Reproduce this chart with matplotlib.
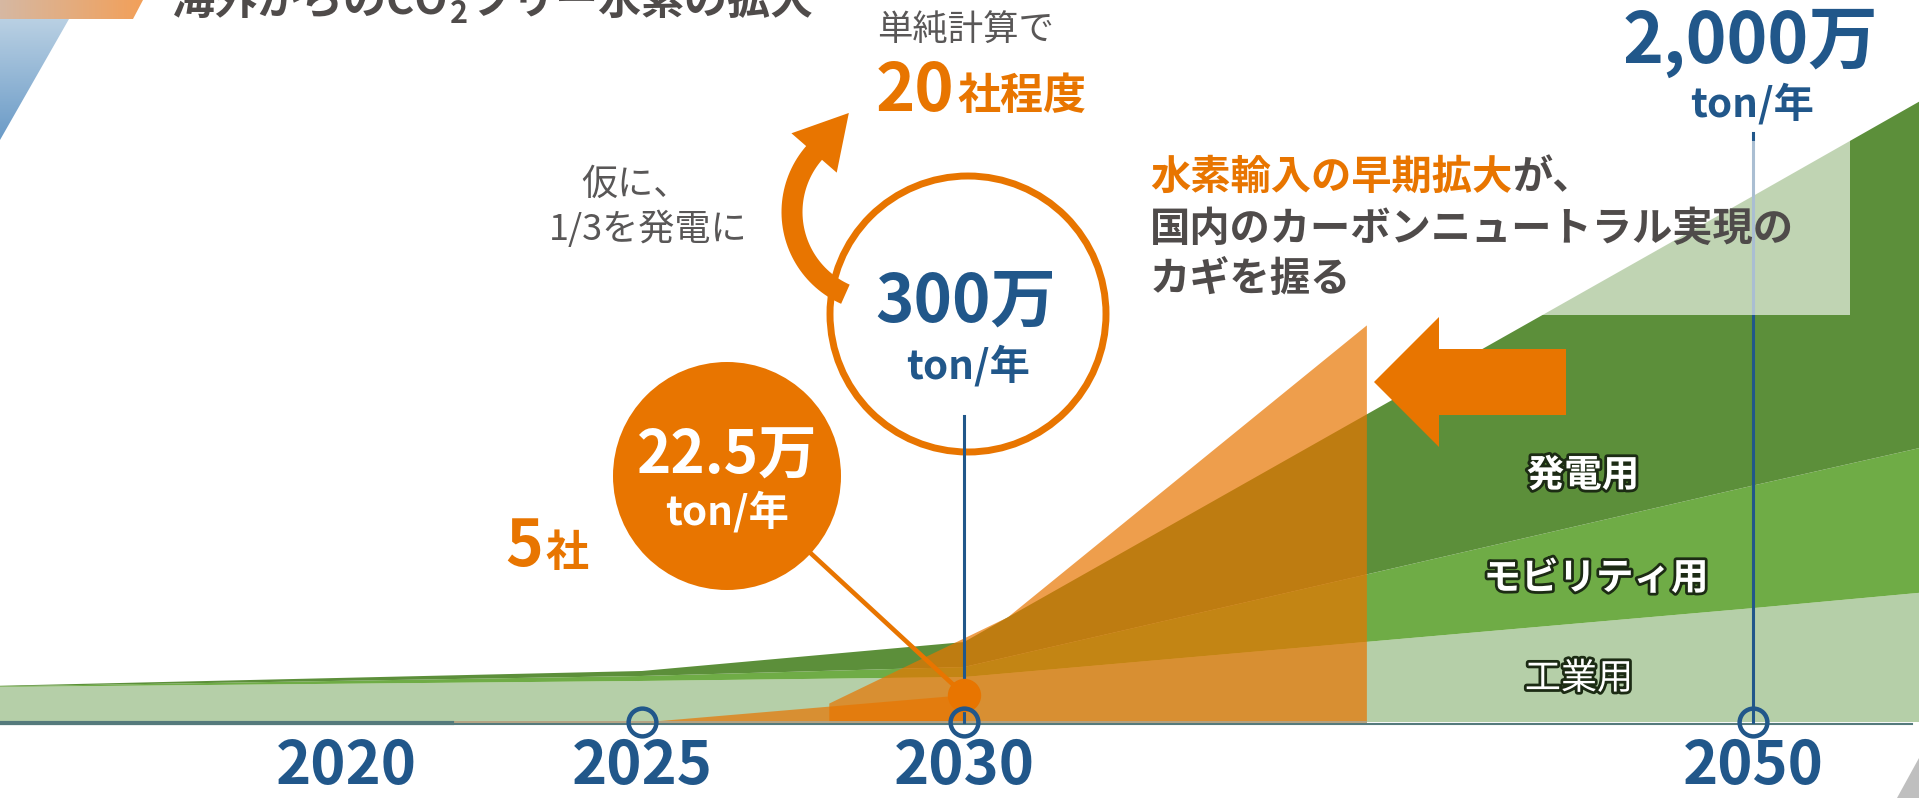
import numpy as np
import matplotlib
matplotlib.use("Agg")
import matplotlib.pyplot as plt
from matplotlib import patheffects
from matplotlib.patches import Circle, Polygon, Rectangle
from matplotlib.transforms import Affine2D, blended_transform_factory

plt.rcParams['font.family'] = ['Noto Sans CJK JP', 'DejaVu Sans']

# domestic hydrogen demand, stacked (万ton/年)
years = [2014, 2025, 2030, 2050, 2055]
industry = [133, 156, 171, 433, 502]
mobility = [2, 19, 38, 466, 566]
power = [2, 19, 95, 1101, 1358]
layer_labels = ['工業用', 'モビリティ用', '発電用']

# imported CO2-free hydrogen (schematic areas)
import_years = [2027.9, 2031.1, 2040.2]
import_values = [72, 400, 1510]
early_years = [2025, 2030]
early_values = [0, 104]

tick_years = [2020, 2025, 2030, 2050]
marker_years = [2025, 2030, 2050]

# colours
NAVY = '#21578A'
ORANGE = '#E87500'
DARK = '#4F4B4A'
GREY = '#595757'
GREENS = ['#B5CFA8', '#6FAC46', '#5C8F3A']

W, H = 1919, 798
BASE = 722      # pixel row of the zero line
PPU = 0.263     # pixels per 万ton

# time axis is not linear: years -> pixel columns
YEAR_ANCHOR = [2010, 2020, 2025, 2030, 2050, 2060]
PX_ANCHOR = [-246, 346, 642, 964, 1753, 2147.5]


def fwd(x):
    return np.interp(x, YEAR_ANCHOR, PX_ANCHOR)


def inv(p):
    return np.interp(p, PX_ANCHOR, YEAR_ANCHOR)


fig = plt.figure(figsize=(W / 100, H / 100), dpi=100)
ax = fig.add_axes([0, 0, 1, 1])
ax.set_xscale('function', functions=(fwd, inv))
ax.axis('off')

# pixel coordinates measured from top-left
PX = Affine2D().scale(1 / 100, -1 / 100).translate(0, H / 100) + fig.dpi_scale_trans
yr_px = blended_transform_factory(ax.transData, PX)

# green stack
ax.stackplot(years, industry, mobility, power, colors=GREENS, lw=0, zorder=1)

# orange import areas
ax.fill_between(import_years, 0, import_values, color=ORANGE, alpha=0.7, lw=0, zorder=2)
ax.fill_between(early_years, 0, early_values, color=ORANGE, alpha=0.7, lw=0, zorder=2)

# baseline
ax.plot([0, 1912], [724, 724], transform=PX, color='#557A7C', lw=1.5, zorder=3)
ax.plot([452, 1366], [722, 722], transform=PX, color='#B3A283', lw=1.4, zorder=3)
ax.plot([0, 452], [723, 723], transform=PX, color='#557A7C', lw=3, zorder=3)

# vertical guide lines
ax.plot([2050, 2050], [BASE, 133], transform=yr_px, color=NAVY, lw=2.2, zorder=3)
ax.plot([2030, 2030], [BASE, 416], transform=yr_px, color=NAVY, lw=2.2, zorder=9)

# layer labels
glow = [patheffects.withStroke(linewidth=4, foreground='#1C2B14')]
ax.text(1579, 679, layer_labels[0], transform=PX, ha='center', va='center',
        color='white', fontsize=26, path_effects=glow, zorder=6)
ax.text(1596, 578, layer_labels[1], transform=PX, ha='center', va='center',
        color='white', fontsize=27, fontweight='bold', path_effects=glow, zorder=6)
ax.text(1583, 475, layer_labels[2], transform=PX, ha='center', va='center',
        color='white', fontsize=27, fontweight='bold', path_effects=glow, zorder=6)

# big arrow pointing left
arrow_pts = [(1374, 382), (1439, 317), (1439, 349), (1566, 349),
             (1566, 415), (1439, 415), (1439, 447)]
ax.add_patch(Polygon(arrow_pts, closed=True, transform=PX, fc=ORANGE, ec='none', zorder=4))

# message box
ax.add_patch(Rectangle((1132, 141), 718, 174, transform=PX, fc='white',
                       alpha=0.62, ec='none', zorder=5))
t1 = ax.text(1150, 189, '水素輸入の早期拡大', transform=PX, ha='left', va='baseline',
             fontsize=29, fontweight='bold', color=ORANGE, zorder=7)
ax.annotate('が、', xy=(1, 0), xycoords=t1, ha='left', va='bottom',
            fontsize=29, fontweight='bold', color=DARK, zorder=7)
ax.text(1150, 241, '国内のカーボンニュートラル実現の', transform=PX, ha='left',
        va='baseline', fontsize=29, fontweight='bold', color=DARK, zorder=7)
ax.text(1150, 291, 'カギを握る', transform=PX, ha='left', va='baseline',
        fontsize=29, fontweight='bold', color=DARK, zorder=7)

# 2030 circle
ax.add_patch(Circle((968, 314), 138, transform=PX, fc='white', ec=ORANGE, lw=5, zorder=6))
ax.text(966, 322, '300万', transform=PX, ha='center', va='baseline',
        fontsize=47, fontweight='bold', color=NAVY, zorder=8)
ax.text(968, 378, 'ton/年', transform=PX, ha='center', va='baseline',
        fontsize=29, fontweight='bold', color=NAVY, zorder=8)

# curved arrow
C = np.array([882.0, 212.0])
R, w = 90, 21
th = np.radians(np.linspace(114, 221, 50))
ring = np.c_[np.cos(th), np.sin(th)]
outer = C + (R + w / 2) * ring
inner = C + (R - w / 2) * ring
t_end = th[-1]
normal = np.array([np.cos(t_end), np.sin(t_end)])
tang = np.array([-np.sin(t_end), np.cos(t_end)])
base = C + R * normal
head = [base + 30 * normal, base + 53 * tang, base - 30 * normal]
curve = np.vstack([outer, head, inner[::-1]])
ax.add_patch(Polygon(curve, closed=True, transform=PX, fc=ORANGE, ec='none', zorder=8))

ax.text(877, 41, '単純計算で', transform=PX, ha='left', va='baseline',
        fontsize=25.5, color=GREY, zorder=8)
ax.text(876, 111, '20', transform=PX, ha='left', va='baseline',
        fontsize=48, fontweight='bold', color=ORANGE, zorder=8)
ax.text(957, 109, '社程度', transform=PX, ha='left', va='baseline',
        fontsize=31, fontweight='bold', color=ORANGE, zorder=8)
ax.text(635, 195, '仮に、', transform=PX, ha='center', va='baseline',
        fontsize=26, color=GREY, zorder=8)
ax.text(648, 240, '1/3を発電に', transform=PX, ha='center', va='baseline',
        fontsize=26, color=GREY, zorder=8)

# 22.5万 bubble and its pointer
ax.annotate('', xy=(2030, early_values[-1]), xycoords='data',
            xytext=(727, 476), textcoords=PX,
            arrowprops=dict(arrowstyle='-', color=ORANGE, lw=3.3, shrinkA=0, shrinkB=0),
            zorder=6)
ax.add_patch(Circle((727, 476), 114, transform=PX, fc=ORANGE, ec='none', zorder=7))
ax.text(727, 474, '22.5万', transform=PX, ha='center', va='baseline',
        fontsize=42, fontweight='bold', color='white', zorder=8)
ax.text(727, 524, 'ton/年', transform=PX, ha='center', va='baseline',
        fontsize=29, fontweight='bold', color='white', zorder=8)
ax.plot([2030], [early_values[-1]], 'o', ms=23, color=ORANGE, zorder=10, clip_on=False)

ax.text(505, 566, '5', transform=PX, ha='left', va='baseline',
        fontsize=46, fontweight='bold', color=ORANGE, zorder=8)
ax.text(545, 566, '社', transform=PX, ha='left', va='baseline',
        fontsize=31, fontweight='bold', color=ORANGE, zorder=8)

# 2050 label
ax.text(1750, 63, '2,000万', transform=PX, ha='center', va='baseline',
        fontsize=50, fontweight='bold', color=NAVY, zorder=8)
ax.text(1752, 116, 'ton/年', transform=PX, ha='center', va='baseline',
        fontsize=29, fontweight='bold', color=NAVY, zorder=8)

# year markers and labels
ax.plot(marker_years, [0] * len(marker_years), 'o', ls='none', ms=20, mfc='none',
        mec=NAVY, mew=3.2, zorder=11, clip_on=False)
for yr in tick_years:
    ax.text(yr, 797, str(yr), transform=yr_px, ha='center', va='bottom',
            fontsize=43, fontweight='bold', color=NAVY, zorder=8)

# title, cut at the top edge (CO2 with a lowered 2)
ax.text(172, 14, '海外からのCO', transform=PX, ha='left', va='baseline',
        fontsize=31, fontweight='bold', color=DARK, zorder=8)
ax.text(450, 23, '2', transform=PX, ha='left', va='baseline',
        fontsize=22, fontweight='bold', color=DARK, zorder=8)
ax.text(469, 14, 'フリー水素の拡大', transform=PX, ha='left', va='baseline',
        fontsize=31, fontweight='bold', color=DARK, zorder=8)

# corner triangle
ax.add_patch(Polygon([(1897, 798), (1919, 758), (1919, 798)], closed=True,
                     transform=PX, fc='#BFBFBF', ec='none', zorder=8))

ax.set_xlim(inv(0), inv(W))
ax.set_ylim(-(H - BASE) / PPU, BASE / PPU)

# gradient decoration top-left
deco = fig.add_axes([0, 0, 1, 1])
deco.axis('off')
deco.patch.set_visible(False)


def grad(c0, c1, n, vertical):
    a = np.array(matplotlib.colors.to_rgb(c0))
    b = np.array(matplotlib.colors.to_rgb(c1))
    t = np.linspace(0, 1, n)[:, None]
    g = a + (b - a) * t
    return g[:, None, :] if vertical else g[None, :, :]


band = Polygon([(0, 0), (143, 0), (133, 19), (0, 19)], closed=True,
               transform=deco.transData, fc='none', ec='none')
deco.add_patch(band)
im = deco.imshow(grad('#D6B8A2', '#F2A05A', 64, False), extent=(0, 143, 19, 0),
                 aspect='auto', interpolation='bilinear')
im.set_clip_path(band)

tri = Polygon([(0, 19), (69, 19), (0, 140)], closed=True,
              transform=deco.transData, fc='none', ec='none')
deco.add_patch(tri)
im2 = deco.imshow(grad('#B9D0E3', '#6B9BC7', 64, True), extent=(0, 69, 140, 19),
                  aspect='auto', interpolation='bilinear')
im2.set_clip_path(tri)
deco.set_xlim(0, W)
deco.set_ylim(H, 0)

fig.savefig('out.png', dpi=100)
